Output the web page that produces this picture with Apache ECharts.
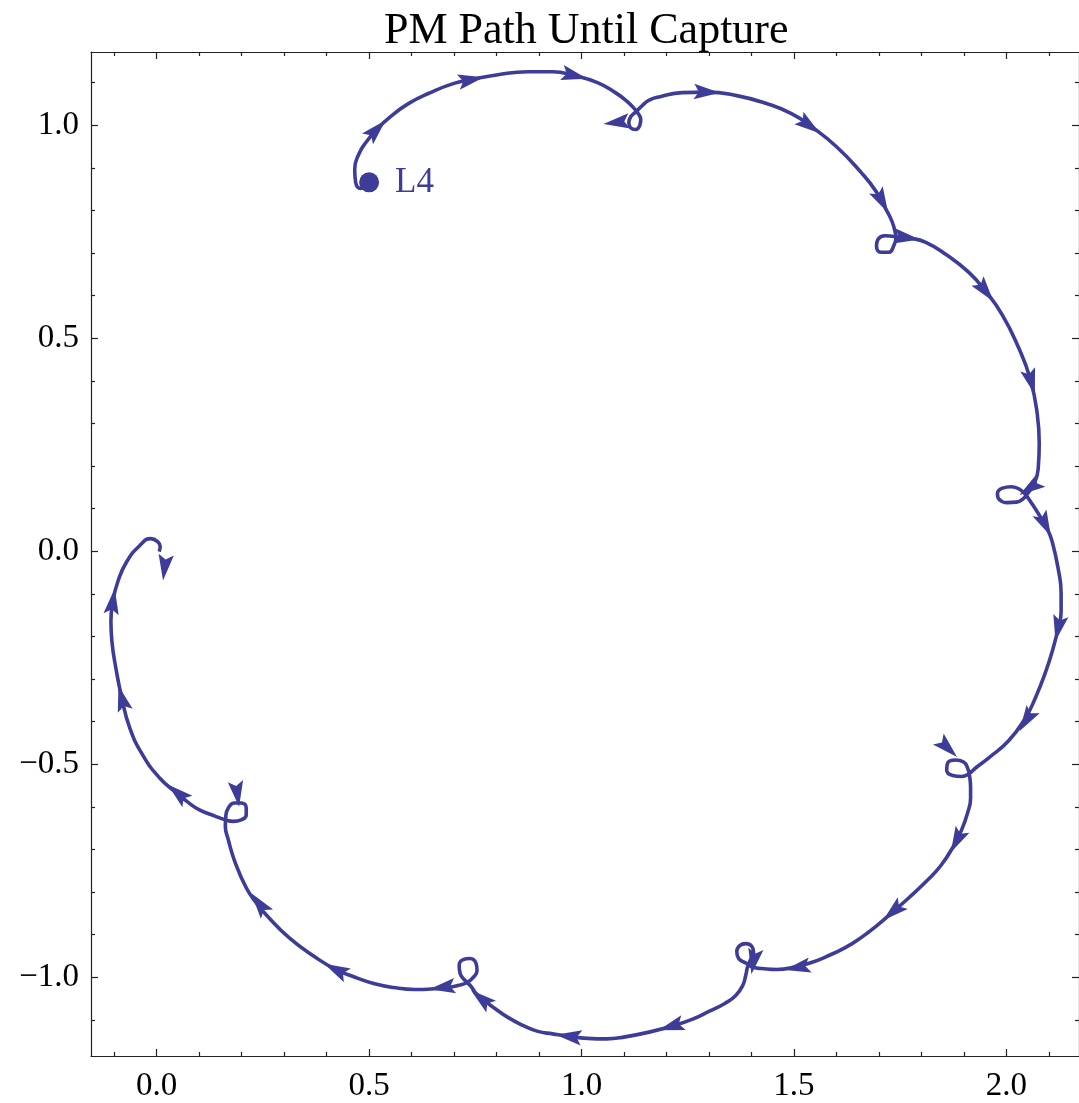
<!DOCTYPE html>
<html>
<head>
<meta charset="utf-8">
<script src="https://cdn.jsdelivr.net/npm/echarts@6/dist/echarts.min.js"></script>
<style>
  html, body { margin: 0; background: #fff; }
  #chart { width: 1079px; height: 1103px; }
</style>
</head>
<body>
<div id="chart"></div>
<script>
// PM 轨迹:从 L4 出发,绕行一圈,途中 7 个小回环,最后被捕获在原点附近
const arcStart = [[0.5,0.866],[0.4801,0.8518],[0.4684,0.8658],[0.4661,0.8963],[0.4754,0.9314],[0.4942,0.9619],[0.5176,0.9900],[0.5504,1.0204],[0.5925,1.0509],[0.6441,1.0766],[0.6979,1.0977],[0.7401,1.1071],[0.8033,1.1188],[0.8736,1.1258],[0.9321,1.1258],[0.9836,1.1164],[1.0375,1.1000],[1.0797,1.0766],[1.1078,1.0555],[1.1242,1.0391]];
const loop1 = [[1.1335,1.0274],[1.1394,1.0134],[1.1370,0.9993],[1.1277,0.9900],[1.1160,0.9935],[1.1113,1.0064],[1.1171,1.0216],[1.1288,1.0321],[1.1429,1.0462]];
const arc2 = [[1.1593,1.0591],[1.1851,1.0672],[1.2366,1.0766],[1.2951,1.0778],[1.3654,1.0696],[1.4356,1.0509],[1.4942,1.0274],[1.5410,0.9970],[1.5996,0.9501],[1.6581,0.8893],[1.6933,0.8448],[1.7167,0.8026],[1.7307,0.7745],[1.7378,0.7511]];
const loop2 = [[1.7401,0.7370],[1.7354,0.7183],[1.7237,0.7019],[1.7050,0.7019],[1.6944,0.7160],[1.6980,0.7323],[1.7143,0.7405],[1.7307,0.7394],[1.7518,0.7370]];
const arc3 = [[1.7752,0.7347],[1.8104,0.7253],[1.8572,0.6972],[1.9111,0.6551],[1.9509,0.6106],[1.9907,0.5544],[2.0282,0.4794],[2.0563,0.4045],[2.0727,0.3225],[2.0774,0.2522],[2.0750,0.1937],[2.0656,0.1586],[2.0516,0.1375]];
const loop3 = [[2.0399,0.1234],[2.0235,0.1152],[2.0024,0.1141],[1.9837,0.1211],[1.9790,0.1351],[1.9907,0.1480],[2.0118,0.1515],[2.0329,0.1445],[2.0469,0.1304],[2.0586,0.1141]];
const arc4 = [[2.0797,0.0813],[2.0961,0.0532],[2.1078,0.0227],[2.1219,-0.0405],[2.1289,-0.0991],[2.1289,-0.1412],[2.1219,-0.1810],[2.1101,-0.2279],[2.0914,-0.2864],[2.0680,-0.3450],[2.0446,-0.3918],[2.0048,-0.4457],[1.9579,-0.4855],[1.9275,-0.5089]];
const loop4 = [[1.9111,-0.5230],[1.8947,-0.5288],[1.8736,-0.5265],[1.8595,-0.5136],[1.8619,-0.4972],[1.8806,-0.4902],[1.8994,-0.4949],[1.9087,-0.5089],[1.9134,-0.5277],[1.9158,-0.5558]];
const arc5 = [[1.9158,-0.5792],[1.9087,-0.6143],[1.8947,-0.6541],[1.8759,-0.6916],[1.8455,-0.7384],[1.8104,-0.7759],[1.7706,-0.8134],[1.7331,-0.8462],[1.6980,-0.8766],[1.6581,-0.9071],[1.6207,-0.9305],[1.5762,-0.9516],[1.5410,-0.9656],[1.5059,-0.9750],[1.4591,-0.9820],[1.4239,-0.9797]];
const loop5 = [[1.4052,-0.9773],[1.3888,-0.9679],[1.3701,-0.9562],[1.3654,-0.9398],[1.3724,-0.9258],[1.3865,-0.9211],[1.4005,-0.9270],[1.4052,-0.9422],[1.3982,-0.9586],[1.3911,-0.9750],[1.3865,-0.9961]];
const arc6 = [[1.3794,-1.0195],[1.3630,-1.0429],[1.3373,-1.0616],[1.2998,-1.0804],[1.2600,-1.0991],[1.2108,-1.1155],[1.1663,-1.1272],[1.0961,-1.1413],[1.0586,-1.1448],[1.0141,-1.1436],[0.9696,-1.1389],[0.9321,-1.1331],[0.8970,-1.1272],[0.8619,-1.1132],[0.8267,-1.0944],[0.7963,-1.0733],[0.7705,-1.0546]];
const loop6 = [[0.7518,-1.0382],[0.7401,-1.0218],[0.7260,-1.0078],[0.7143,-0.9914],[0.7120,-0.9726],[0.7213,-0.9586],[0.7377,-0.9562],[0.7518,-0.9679],[0.7541,-0.9843],[0.7448,-1.0007],[0.7307,-1.0124],[0.7096,-1.0195],[0.6862,-1.0242]];
const arc7 = [[0.6628,-1.0265],[0.6089,-1.0288],[0.5574,-1.0242],[0.5106,-1.0148],[0.4684,-1.0007],[0.4216,-0.9820],[0.3747,-0.9539],[0.3115,-0.9071],[0.2576,-0.8532],[0.2342,-0.8251],[0.2108,-0.7900],[0.1850,-0.7314],[0.1686,-0.6775]];
const loop7 = [[0.1616,-0.6448],[0.1628,-0.6213],[0.1686,-0.6026],[0.1827,-0.5909],[0.1991,-0.5909],[0.2108,-0.6026],[0.2108,-0.6190],[0.1991,-0.6307],[0.1803,-0.6342],[0.1616,-0.6307],[0.1358,-0.6213]];
const arcEnd = [[0.1007,-0.6073],[0.0726,-0.5885],[0.0468,-0.5675],[0.0070,-0.5323],[-0.0328,-0.4785],[-0.0632,-0.4152],[-0.0820,-0.3450],[-0.0960,-0.2747],[-0.1054,-0.2115],[-0.1077,-0.1646],[-0.1030,-0.1178],[-0.0913,-0.0710],[-0.0703,-0.0241],[-0.0398,0.0133],[-0.0141,0.0297],[0.0023,0.0227],[0.0082,0.0110],[0.0059,-0.0007]];

// 箭头:[x, y, 方向角(度,逆时针,0 = 向右)]
const arrowheads = [[0.5176,0.9900,46],[0.7401,1.1071,11],[0.9836,1.1164,-14],[1.0820,1.0064,187],[1.2951,1.0778,-3],[1.5364,0.9993,-36],[1.7073,0.8213,-62],[1.7659,0.7359,-8],[1.9509,0.6106,-52],[2.0586,0.3974,-74],[2.0563,0.1492,-146],[2.0914,0.0625,-64],[2.1219,-0.1810,-102],[2.0469,-0.3965,-122],[1.8619,-0.4621,-44],[1.8830,-0.6799,-117],[1.7331,-0.8462,-139],[1.5082,-0.9773,-169],[1.4052,-0.9633,-100],[1.2108,-1.1155,-163],[0.9696,-1.1389,173],[0.7635,-1.0499,141],[0.6722,-1.0242,-172],[0.4216,-0.9820,153],[0.2412,-0.8274,127],[0.1897,-0.5698,-82],[0.0492,-0.5675,139],[-0.0820,-0.3450,105],[-0.1030,-0.1178,82],[0.0187,-0.0382,-97]];

const startPoint = [0.5, 0.866];
const startName = 'L4';

const xMajor = [0, 0.5, 1, 1.5, 2];
const xMinor = [-0.1, 0.1, 0.2, 0.3, 0.4, 0.6, 0.7, 0.8, 0.9, 1.1, 1.2, 1.3, 1.4, 1.6, 1.7, 1.8, 1.9, 2.1];
const yMajor = [-1, -0.5, 0, 0.5, 1];
const yMinor = [-1.1, -0.9, -0.8, -0.7, -0.6, -0.4, -0.3, -0.2, -0.1, 0.1, 0.2, 0.3, 0.4, 0.6, 0.7, 0.8, 0.9, 1.1];
const xRange = [-0.1546, 2.171];
const yRange = [-1.185, 1.172];

const BLUE = '#3d3d99';
const SERIF = 'Liberation Serif';
const frame = { color: '#222', width: 1.2 };
const fmt = v => v.toFixed(1).replace('-', '\u2212');

function axis(range, pos, ticks, len, line, labels) {
  return {
    type: 'value', position: pos, min: range[0], max: range[1],
    axisLine: { show: line, onZero: false, lineStyle: frame },
    splitLine: { show: false },
    axisTick: { show: true, inside: true, length: len, customValues: ticks, lineStyle: frame },
    axisLabel: labels
      ? { show: true, customValues: ticks, formatter: fmt, fontFamily: SERIF, fontSize: 33, color: '#000', margin: labels }
      : { show: false }
  };
}

const chart = echarts.init(document.getElementById('chart'));
const path = [].concat(arcStart, loop1, arc2, loop2, arc3, loop3, arc4, loop4, arc5, loop5, arc6, loop6, arc7, loop7, arcEnd);

chart.setOption({
  animation: false,
  title: {
    text: 'PM Path Until Capture', left: 384, top: 9, padding: 0,
    textStyle: { fontFamily: SERIF, fontSize: 44, fontWeight: 'normal', color: '#000' }
  },
  grid: { left: 91, top: 52, width: 992, height: 1007 },
  xAxis: [
    axis(xRange, 'bottom', xMajor, 7, true, 14),
    axis(xRange, 'bottom', xMinor, 4, false, 0),
    axis(xRange, 'top', xMajor, 7, true, 0),
    axis(xRange, 'top', xMinor, 4, false, 0)
  ],
  yAxis: [
    axis(yRange, 'left', yMajor, 7, true, 12),
    axis(yRange, 'left', yMinor, 4, false, 0),
    axis(yRange, 'right', yMajor, 7, true, 0),
    axis(yRange, 'right', yMinor, 4, false, 0)
  ],
  series: [
    {
      type: 'line', data: path, smooth: 0.5, showSymbol: false, z: 2,
      lineStyle: { color: BLUE, width: 3.6 }
    },
    {
      type: 'scatter', z: 3,
      symbol: 'path://M10,0 L20,26 L10,21 L0,26 Z', symbolSize: [20, 26], symbolKeepAspect: true,
      itemStyle: { color: BLUE, opacity: 1 },
      data: arrowheads.map(a => ({ value: [a[0], a[1]], symbolRotate: a[2] - 90 }))
    },
    {
      type: 'scatter', z: 4, symbol: 'circle', symbolSize: 20,
      itemStyle: { color: BLUE, opacity: 1 },
      label: {
        show: true, position: 'right', distance: 16, formatter: startName,
        fontFamily: SERIF, fontSize: 35, color: BLUE, opacity: 1
      },
      data: [startPoint]
    }
  ]
});
</script>
</body>
</html>
